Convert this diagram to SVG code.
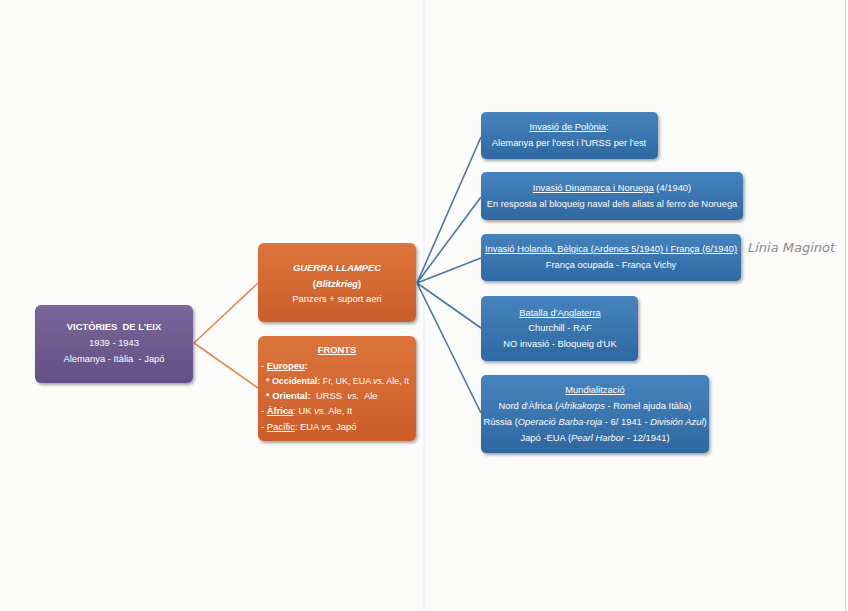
<svg xmlns="http://www.w3.org/2000/svg" width="848" height="611" viewBox="0 0 848 611">
<style>
.t{font-family:"Liberation Sans",Arial,sans-serif;font-size:9.4px;fill:#fff;text-anchor:middle;white-space:pre}
.l{text-anchor:start}
.b{font-weight:bold}
.i{font-style:italic}
.u{text-decoration:underline}
.c1{fill:none;stroke:#e08a4a;stroke-width:1.6}
.c2{fill:none;stroke:#4a76a8;stroke-width:1.6}
.hand{font-family:"DejaVu Sans",sans-serif;font-size:13px;font-weight:200;fill:#8a8a8a;font-style:italic}
</style>
<defs>
<linearGradient id="gp" x1="0" y1="0" x2="0" y2="1"><stop offset="0" stop-color="#7a6699"/><stop offset="1" stop-color="#654f86"/></linearGradient>
<linearGradient id="go" x1="0" y1="0" x2="0" y2="1"><stop offset="0" stop-color="#dc743c"/><stop offset="1" stop-color="#cc5e2a"/></linearGradient>
<linearGradient id="gb" x1="0" y1="0" x2="0" y2="1"><stop offset="0" stop-color="#4683bd"/><stop offset="1" stop-color="#2f68a1"/></linearGradient>
<filter id="sh" x="-10%" y="-20%" width="125%" height="150%"><feDropShadow dx="1.5" dy="2" stdDeviation="1.8" flood-color="#000" flood-opacity="0.35"/></filter>
</defs>
<rect width="848" height="611" fill="#fbfbfa"/>
<line x1="424" y1="0" x2="424" y2="611" stroke="#ececec" stroke-width="1"/>
<line x1="845.5" y1="0" x2="845.5" y2="611" stroke="#d8d8d8" stroke-width="1"/>

<g id="connectors">
<path class="c1" d="M194 343 L258 283 M194 343 L258 388"/>
<path class="c2" d="M417 283 L481 137 M417 283 L481 197 M417 283 L481 258 M417 283 L481 328 M417 283 L481 413"/>
</g>

<g id="victories">
<rect x="35" y="305" width="158" height="78" rx="6" fill="url(#gp)" filter="url(#sh)"/>
<text class="t b" x="114" y="330">VICTÒRIES  DE L'EIX</text>
<text class="t" x="114" y="346">1939 - 1943</text>
<text class="t" x="114" y="362">Alemanya - Itàlia  - Japó</text>
</g>

<g id="guerra">
<rect x="258" y="243" width="158" height="79" rx="6" fill="url(#go)" filter="url(#sh)"/>
<text class="t b i" x="337" y="271">GUERRA LLAMPEC</text>
<text class="t b" x="337" y="287">(<tspan class="i">Blitzkrieg</tspan>)</text>
<text class="t" x="337" y="302">Panzers + suport aeri</text>
</g>

<g id="fronts">
<rect x="258" y="336" width="158" height="105" rx="6" fill="url(#go)" filter="url(#sh)"/>
<text class="t b" x="337" y="353"><tspan class="u">FRONTS</tspan></text>
<text class="t l" x="261" y="369">- <tspan class="b u">Europeu</tspan><tspan class="b">:</tspan></text>
<text class="t l" x="266" y="384" style="font-size:8.9px"><tspan class="b">* Occidental:</tspan> Fr, UK, EUA <tspan class="i">vs.</tspan> Ale, It</text>
<text class="t l" x="266" y="399"><tspan class="b">* Oriental:</tspan>  URSS  <tspan class="i">vs.</tspan>  Ale</text>
<text class="t l" x="261" y="414">- <tspan class="b u">Àfrica</tspan>: UK <tspan class="i">vs.</tspan> Ale, It</text>
<text class="t l" x="261" y="430">- <tspan class="u">Pacífic</tspan>: EUA <tspan class="i">vs.</tspan> Japó</text>
</g>

<g id="polonia">
<rect x="481" y="112" width="177" height="47" rx="5" fill="url(#gb)" filter="url(#sh)"/>
<text class="t" x="569" y="130"><tspan class="u">Invasió de Polònia</tspan>:</text>
<text class="t" x="569" y="146">Alemanya per l'oest i l'URSS per l'est</text>
</g>

<g id="dinamarca">
<rect x="481" y="172" width="262" height="48" rx="5" fill="url(#gb)" filter="url(#sh)"/>
<text class="t" x="612" y="191"><tspan class="u">Invasió Dinamarca i Noruega</tspan> (4/1940)</text>
<text class="t" x="612" y="207">En resposta al bloqueig naval dels aliats al ferro de Noruega</text>
</g>

<g id="holanda">
<rect x="481" y="234" width="260" height="47" rx="5" fill="url(#gb)" filter="url(#sh)"/>
<text class="t" x="611" y="252"><tspan class="u">Invasió Holanda, Bèlgica (Ardenes 5/1940) i França (6/1940)</tspan></text>
<text class="t" x="611" y="268">França ocupada - França Vichy</text>
</g>

<g id="anglaterra">
<rect x="481" y="296" width="157" height="65" rx="5" fill="url(#gb)" filter="url(#sh)"/>
<text class="t" x="560" y="316"><tspan class="u">Batalla d'Anglaterra</tspan></text>
<text class="t" x="560" y="331">Churchill - RAF</text>
<text class="t" x="560" y="347">NO invasió - Bloqueig d'UK</text>
</g>

<g id="mundialitzacio">
<rect x="481" y="375" width="228" height="78" rx="5" fill="url(#gb)" filter="url(#sh)"/>
<text class="t" x="595" y="393"><tspan class="u">Mundialització</tspan></text>
<text class="t" x="595" y="409">Nord d'Àfrica (<tspan class="i">Afrikakorps</tspan> - Romel ajuda Itàlia)</text>
<text class="t" x="595" y="425">Rússia (<tspan class="i">Operació Barba-roja</tspan> - 6/ 1941 - <tspan class="i">División Azul</tspan>)</text>
<text class="t" x="595" y="441">Japó -EUA (<tspan class="i">Pearl Harbor</tspan> - 12/1941)</text>
</g>

<text class="hand" x="748" y="252">Línia Maginot</text>
</svg>
